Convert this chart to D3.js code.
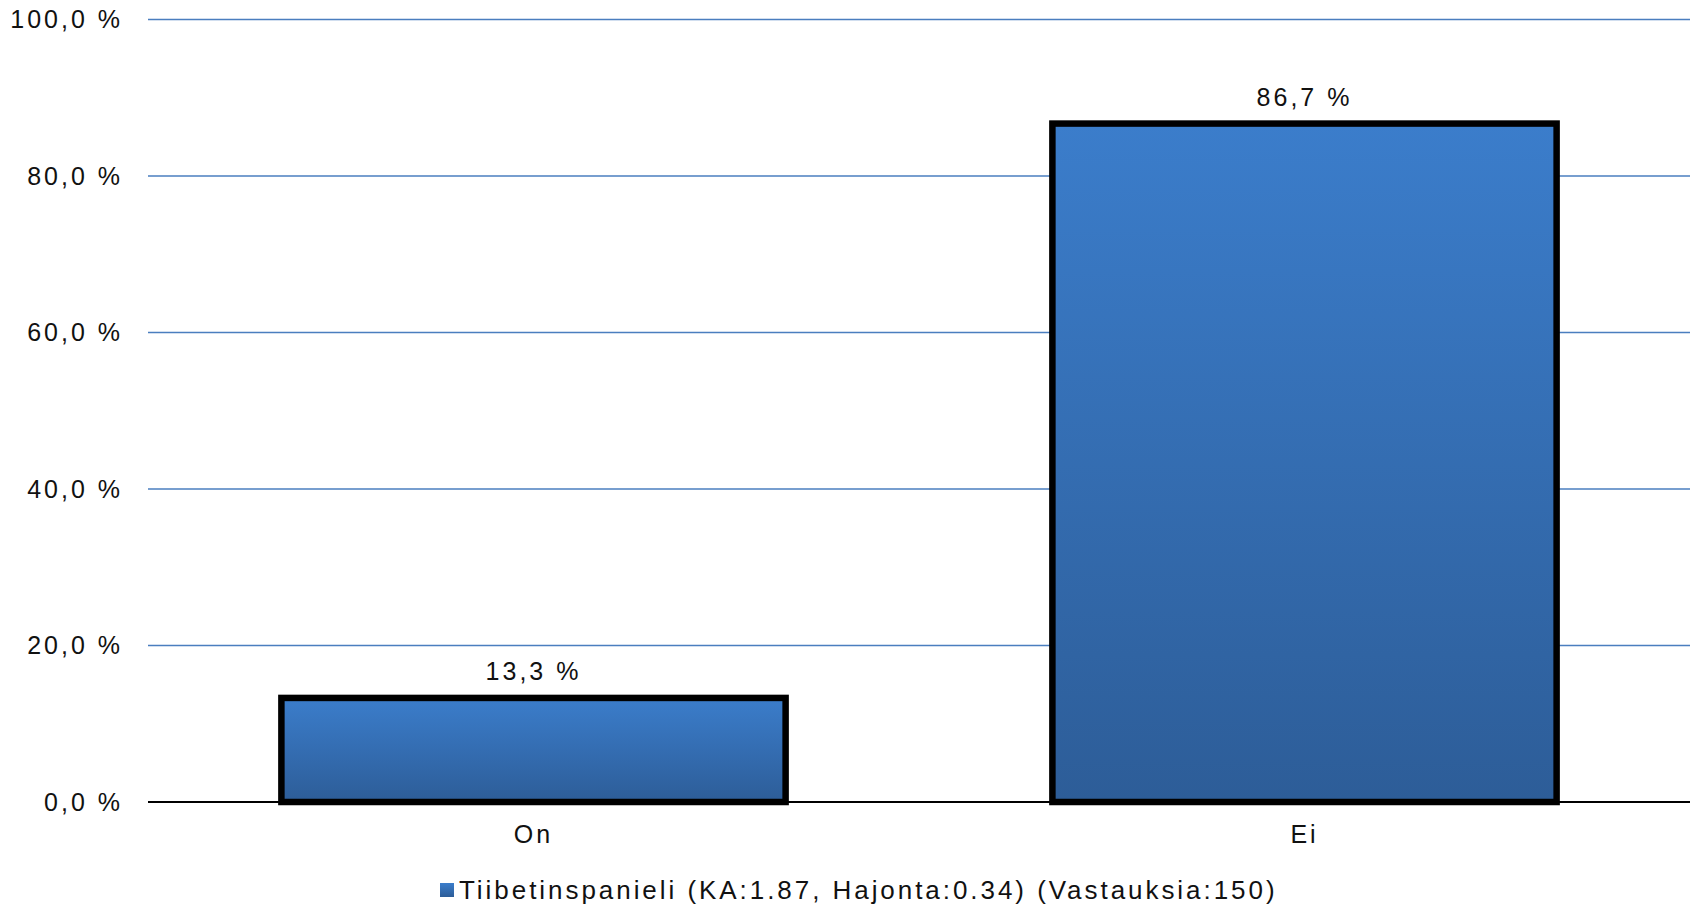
<!DOCTYPE html>
<html>
<head>
<meta charset="utf-8">
<script src="https://cdn.jsdelivr.net/npm/d3@7"></script>
<style>
  html, body { margin: 0; padding: 0; background: #fff; }
  svg { display: block; font-family: "Liberation Sans", Arial, sans-serif; }
</style>
</head>
<body>
<svg id="chart" width="1698" height="905"></svg>
<script>
// Answer categories and their shares (%)
const categories = ["On", "Ei"];
const values = [13.3, 86.7];
const yTicks = [0, 20, 40, 60, 80, 100];
const legendLabel = "Tiibetinspanieli (KA:1.87, Hajonta:0.34) (Vastauksia:150)";

const svg = d3.select("#chart");
const margin = { left: 148, right: 8, top: 19.5, bottom: 103 };
const W = 1698, H = 905;

const x = d3.scaleBand()
  .domain(categories)
  .range([margin.left, W - margin.right])
  .paddingInner(0.346)
  .paddingOuter(0.173);

const y = d3.scaleLinear()
  .domain([0, 100])
  .range([H - margin.bottom, margin.top]);

const fmt = v => d3.format(".1f")(v).replace(".", ",") + " %";

// Bar fill: lighter blue at the top fading to a darker blue
const defs = svg.append("defs");
const grad = defs.append("linearGradient")
  .attr("id", "barFill")
  .attr("x1", 0).attr("y1", 0).attr("x2", 0).attr("y2", 1);
grad.append("stop").attr("offset", "0%").attr("stop-color", "#3b7dcb");
grad.append("stop").attr("offset", "100%").attr("stop-color", "#2d5d98");

// Horizontal gridlines
svg.append("g")
  .selectAll("line")
  .data(yTicks.filter(t => t > 0))
  .join("line")
  .attr("x1", margin.left)
  .attr("x2", W - margin.right)
  .attr("y1", d => y(d))
  .attr("y2", d => y(d))
  .attr("stroke", "#4a7ebf")
  .attr("stroke-width", 1.6);

// Y axis labels
svg.append("g")
  .selectAll("text")
  .data(yTicks)
  .join("text")
  .attr("x", 123)
  .attr("y", d => y(d))
  .attr("dy", "0.35em")
  .attr("text-anchor", "end")
  .attr("font-size", 25)
  .attr("letter-spacing", 3)
  .attr("fill", "#111")
  .text(fmt);

// Bars
svg.append("g")
  .selectAll("rect")
  .data(values)
  .join("rect")
  .attr("x", (d, i) => x(categories[i]))
  .attr("width", x.bandwidth())
  .attr("y", d => y(d))
  .attr("height", d => y(0) - y(d))
  .attr("fill", "url(#barFill)")
  .attr("stroke", "#000")
  .attr("stroke-width", 6.5);

// Baseline
svg.append("line")
  .attr("x1", margin.left)
  .attr("x2", W - margin.right)
  .attr("y1", y(0))
  .attr("y2", y(0))
  .attr("stroke", "#000")
  .attr("stroke-width", 2);

// Value labels above bars
svg.append("g")
  .selectAll("text")
  .data(values)
  .join("text")
  .attr("x", (d, i) => x(categories[i]) + x.bandwidth() / 2)
  .attr("y", d => y(d) - 18)
  .attr("text-anchor", "middle")
  .attr("font-size", 25)
  .attr("letter-spacing", 3)
  .attr("fill", "#111")
  .text(fmt);

// Category labels
svg.append("g")
  .selectAll("text")
  .data(categories)
  .join("text")
  .attr("x", d => x(d) + x.bandwidth() / 2)
  .attr("y", y(0) + 41)
  .attr("text-anchor", "middle")
  .attr("font-size", 25)
  .attr("letter-spacing", 3)
  .attr("fill", "#111")
  .text(d => d);

// Legend
const legend = svg.append("g").attr("transform", "translate(440, 899)");
legend.append("rect")
  .attr("x", 0).attr("y", -16)
  .attr("width", 14).attr("height", 14)
  .attr("fill", "url(#barFill)");
legend.append("text")
  .attr("x", 19)
  .attr("y", 0)
  .attr("font-size", 26)
  .attr("letter-spacing", 2.95)
  .attr("fill", "#111")
  .text(legendLabel);
</script>
</body>
</html>
